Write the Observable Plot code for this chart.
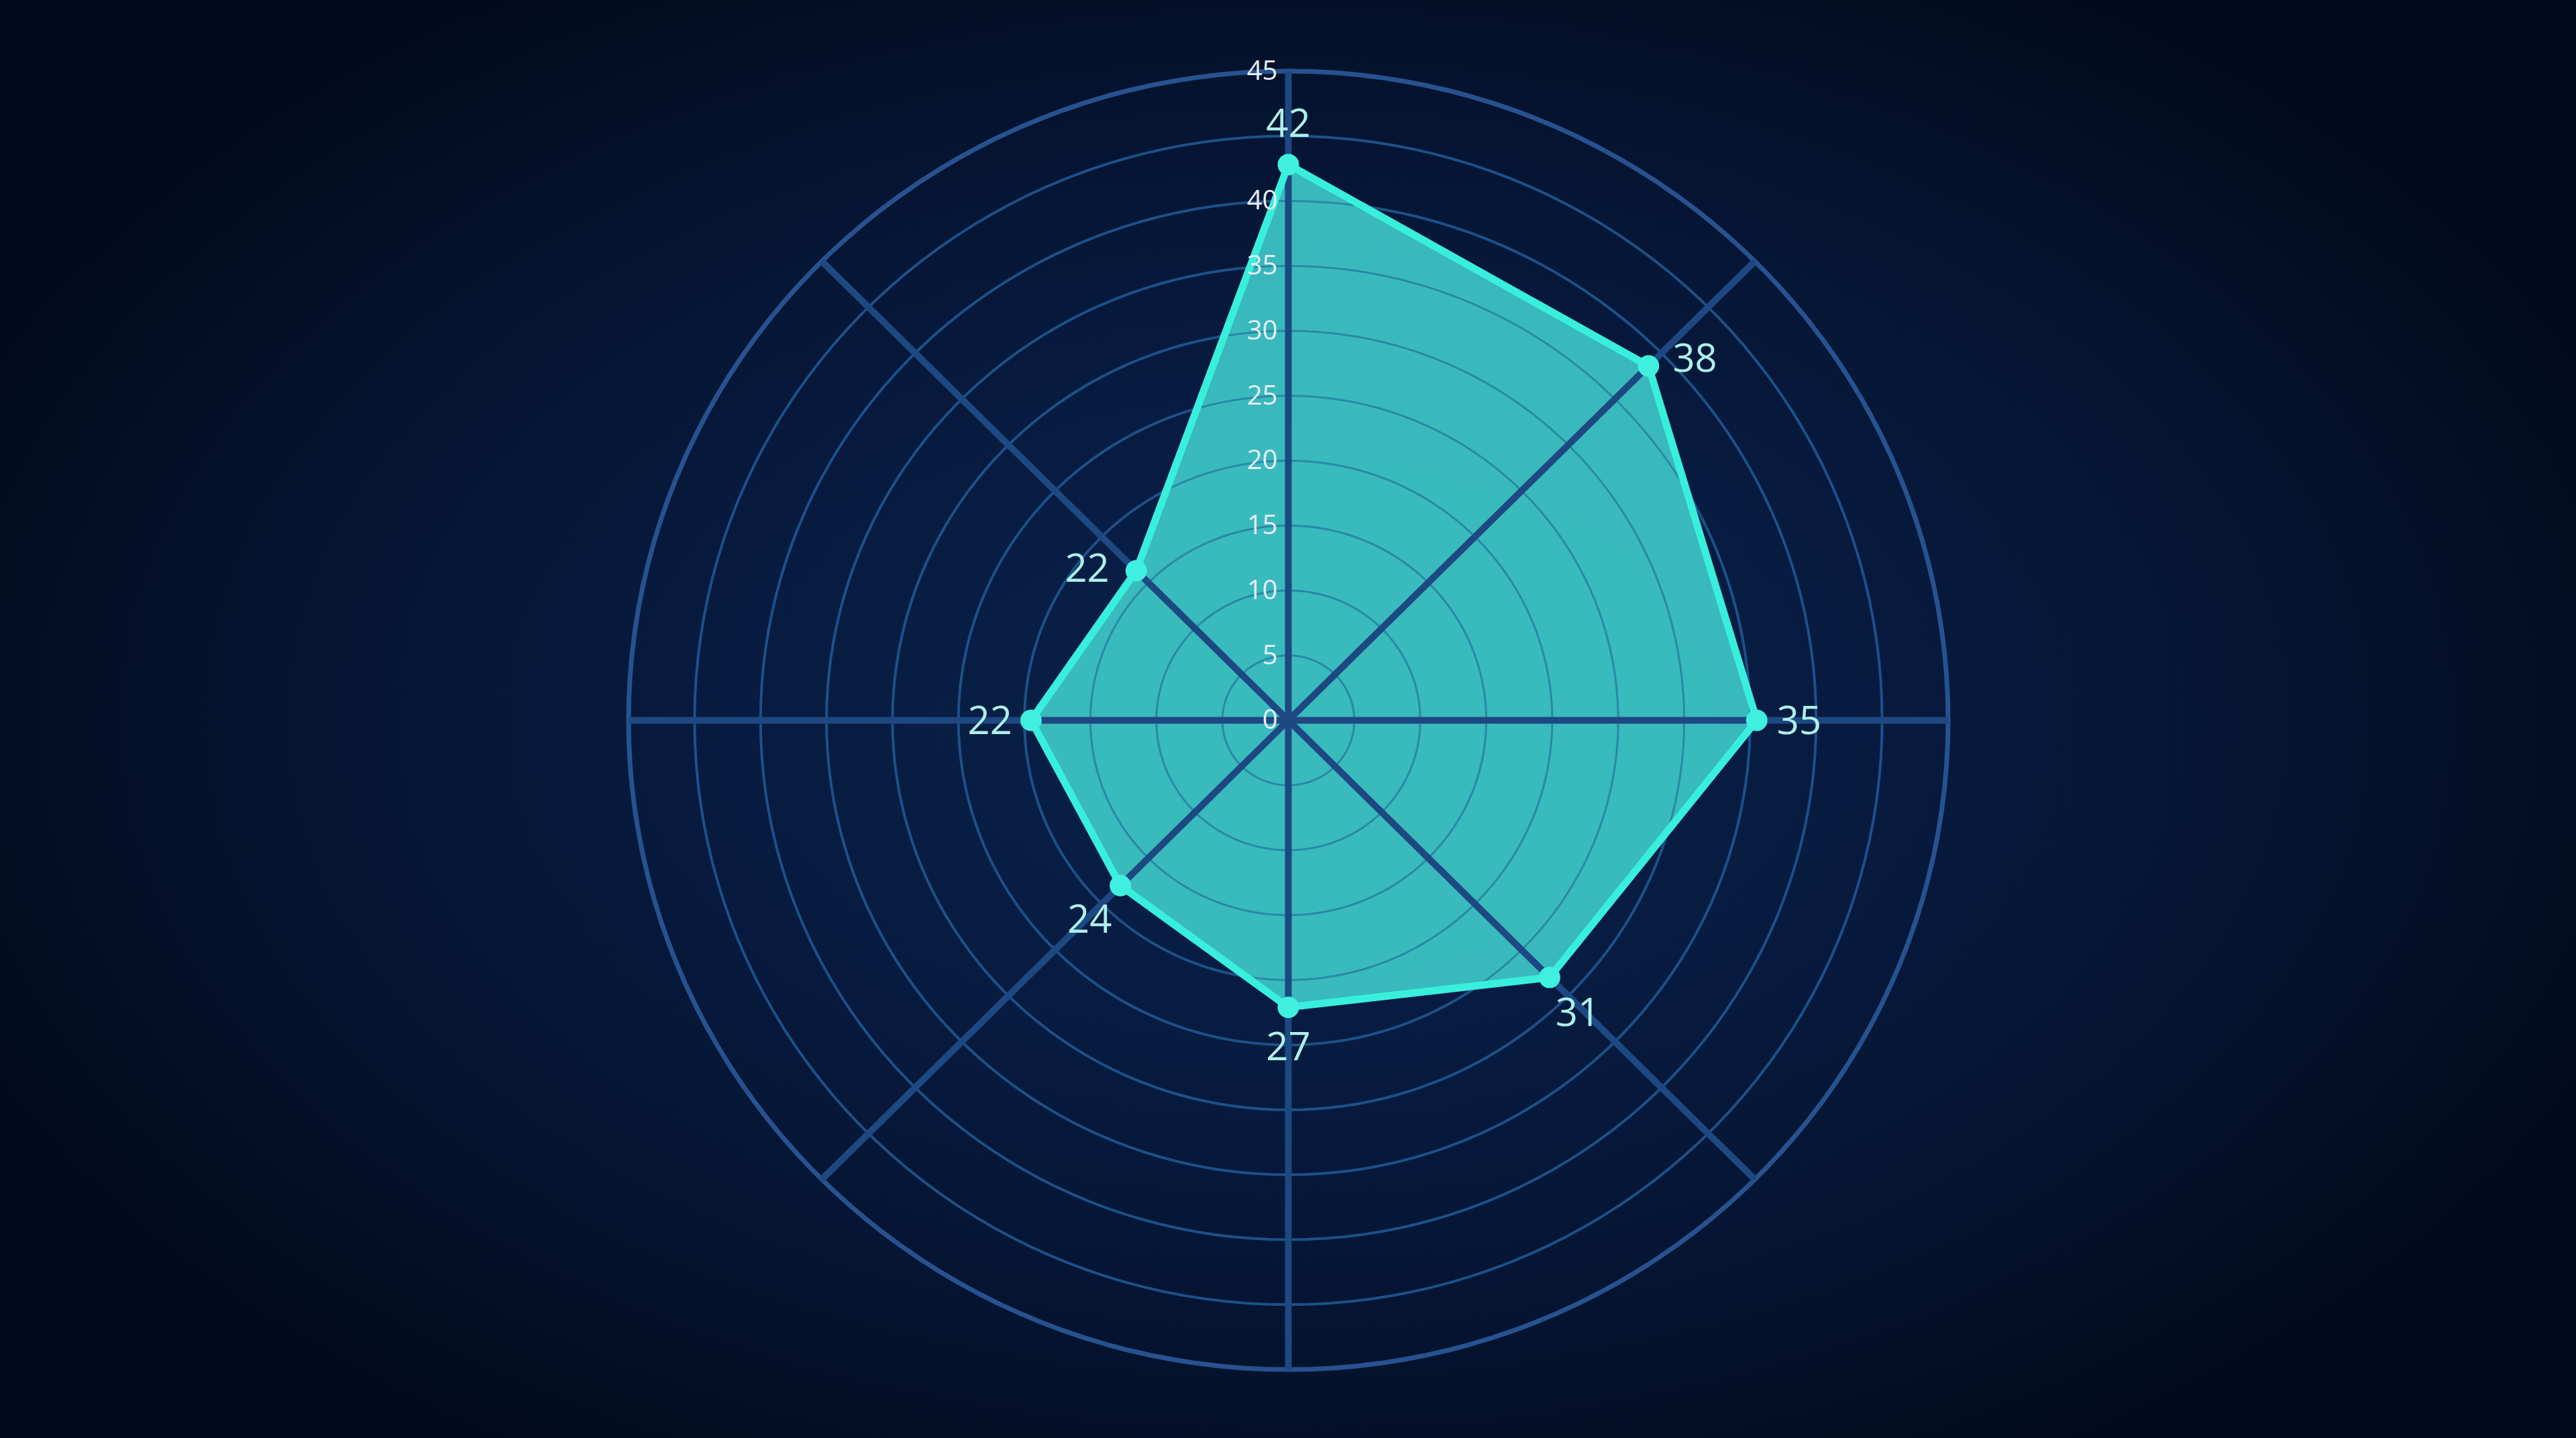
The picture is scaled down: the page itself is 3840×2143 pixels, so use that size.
<!DOCTYPE html>
<html>
<head>
<meta charset="utf-8">
<script src="https://cdn.jsdelivr.net/npm/d3@7"></script>
<script src="https://cdn.jsdelivr.net/npm/@observablehq/plot@0.6"></script>
<style>
  html, body { margin: 0; padding: 0; width: 3840px; height: 2143px; overflow: hidden; }
  body { background: radial-gradient(ellipse 55% 60% at 50% 50%, #0a2148 0%, #081c42 35%, #051431 70%, #020b1d 100%); }
  #chart svg { display: block; }
</style>
</head>
<body>
<div id="chart"></div>
<script>
// ---- data ----
const valueLabels = [42, 38, 35, 31, 27, 24, 22, 22];          // printed value labels, clockwise from top
const values      = [42.8, 38.6, 35.5, 28.0, 22.1, 18.0, 19.5, 16.3]; // radial positions as drawn
const ringValues  = [5, 10, 15, 20, 25, 30, 35, 40, 45, 50];
const tickValues  = [0, 5, 10, 15, 20, 25, 30, 35, 40, 50];
const tickLabels  = ["0", "5", "10", "15", "20", "25", "30", "35", "40", "45"];
const maxRadius   = 50;

// ---- geometry helpers ----
const W = 3840, H = 2143, cx = 1920, cy = 1073, kx = 19.67, ky = 19.35;
const n = values.length;
const angle = i => i * 2 * Math.PI / n;
const polar = (r, a) => ({x: r * Math.sin(a), y: r * Math.cos(a)});

const ringPts = [];
for (const r of ringValues) {
  for (let d = 0; d <= 360; d += 2) {
    const p = polar(r, d * Math.PI / 180);
    ringPts.push({ring: r, x: p.x, y: p.y});
  }
}
const innerRings = ringPts.filter(d => d.ring < maxRadius);
const outerRing = ringPts.filter(d => d.ring === maxRadius);

const spokes = d3.range(n).map(i => {
  const p = polar(maxRadius, angle(i));
  return {x1: 0, y1: 0, x2: p.x, y2: p.y};
});

const poly = values.map((v, i) => ({...polar(v, angle(i)), i, label: String(valueLabels[i])}));

const ticks = tickValues.map((v, i) => ({x: 0, y: v, label: tickLabels[i]}));

// label placement (style), per direction
const place = [
  {dx: 0,   dy: -60, a: "middle"},
  {dx: 36,  dy: -10, a: "start"},
  {dx: 30,  dy: 2,   a: "start"},
  {dx: 42,  dy: 54,  a: "middle"},
  {dx: 0,   dy: 60,  a: "middle"},
  {dx: -46, dy: 52,  a: "middle"},
  {dx: -28, dy: 2,   a: "end"},
  {dx: -40, dy: -2,  a: "end"}
];

const font = "'Open Sans', 'Noto Sans', sans-serif";

const labelMarks = poly.map((p, i) => Plot.text([p], {
  x: "x", y: "y", text: "label",
  dx: place[i].dx, dy: place[i].dy, textAnchor: place[i].a,
  fontSize: 58, fill: "#aef0ec", fontFamily: font
}));

const chart = Plot.plot({
  width: W, height: H,
  margin: 0,
  style: {background: "transparent", fontFamily: font},
  x: {domain: [-cx / kx, (W - cx) / kx], range: [0, W], axis: null},
  y: {domain: [-(H - cy) / ky, cy / ky], range: [H, 0], axis: null},
  marks: [
    Plot.line(innerRings, {x: "x", y: "y", z: "ring", stroke: "#1f4c89", strokeWidth: 4}),
    Plot.line(outerRing, {x: "x", y: "y", stroke: "#27528f", strokeWidth: 7}),
    Plot.line(poly, {x: "x", y: "y", fill: "#3bbfc1", fillOpacity: 0.97, stroke: "none", curve: "linear-closed"}),
    Plot.line(innerRings, {x: "x", y: "y", z: "ring", stroke: "#1a5888", strokeOpacity: 0.5, strokeWidth: 3}),
    Plot.link(spokes, {x1: "x1", y1: "y1", x2: "x2", y2: "y2", stroke: "#1d4882", strokeWidth: 10}),
    Plot.line(poly, {x: "x", y: "y", stroke: "#38efdc", strokeWidth: 11, curve: "linear-closed", strokeLinejoin: "round"}),
    Plot.dot(poly, {x: "x", y: "y", r: 16, fill: "#3ff0df", stroke: "none"}),
    Plot.text(ticks, {x: "x", y: "y", text: "label", textAnchor: "end", dx: -16, fontSize: 40, fill: "#e6edf6", fontFamily: font}),
    ...labelMarks
  ]
});

document.getElementById("chart").appendChild(chart);
</script>
</body>
</html>
